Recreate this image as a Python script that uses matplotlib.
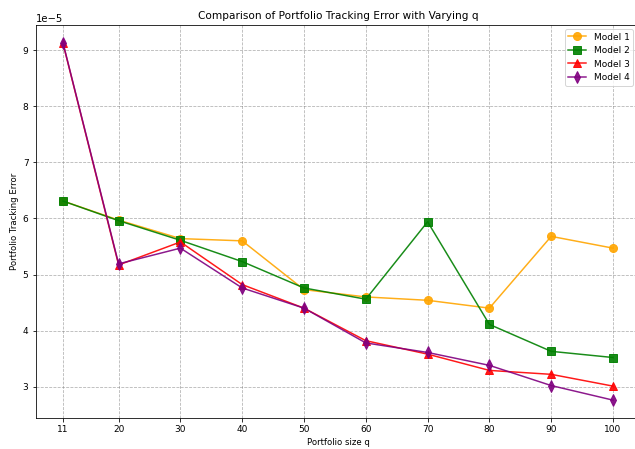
import numpy as np
import matplotlib
matplotlib.use("Agg")
import matplotlib.pyplot as plt

# portfolio sizes and tracking errors (x 1e-5)
q_values = [11, 20, 30, 40, 50, 60, 70, 80, 90, 100]
model1 = [6.31, 5.97, 5.64, 5.60, 4.73, 4.60, 4.54, 4.40, 5.68, 5.47]
model2 = [6.31, 5.96, 5.61, 5.23, 4.76, 4.56, 5.94, 4.11, 3.63, 3.52]
model3 = [9.12, 5.17, 5.58, 4.82, 4.40, 3.82, 3.58, 3.29, 3.22, 3.01]
model4 = [9.13, 5.19, 5.47, 4.76, 4.40, 3.78, 3.61, 3.38, 3.02, 2.76]

W, H = 635, 449
fig = plt.figure(figsize=(W / 72, H / 72), dpi=72)
ax = fig.add_axes([35.5 / W, 1 - 418 / H, 605 / W, (418 - 25) / H])

scale = 1e-5
series = [(model1, 'o', 'orange', 'Model 1'),
          (model2, 's', 'green', 'Model 2'),
          (model3, '^', 'red', 'Model 3'),
          (model4, 'd', 'purple', 'Model 4')]
for vals, mk, col, lab in series:
    ax.plot(q_values, np.array(vals) * scale, marker=mk, color=col,
            markersize=8, lw=1.5, alpha=0.9, label=lab)

ax.set_xticks(q_values)
ax.grid(True, linestyle='--', color='gray', alpha=0.6)
ax.set_title('Comparison of Portfolio Tracking Error with Varying q', fontsize=10.5)
ax.set_xlabel('Portfolio size q', fontsize=8.5)
ax.set_ylabel('Portfolio Tracking Error', fontsize=8.5)
ax.tick_params(labelsize=9)

ax.legend(loc='upper right', bbox_to_anchor=(633 / W, 1 - 29 / H),
          bbox_transform=fig.transFigure, borderaxespad=0, fontsize=9)

fig.savefig('out.png', dpi=72)
